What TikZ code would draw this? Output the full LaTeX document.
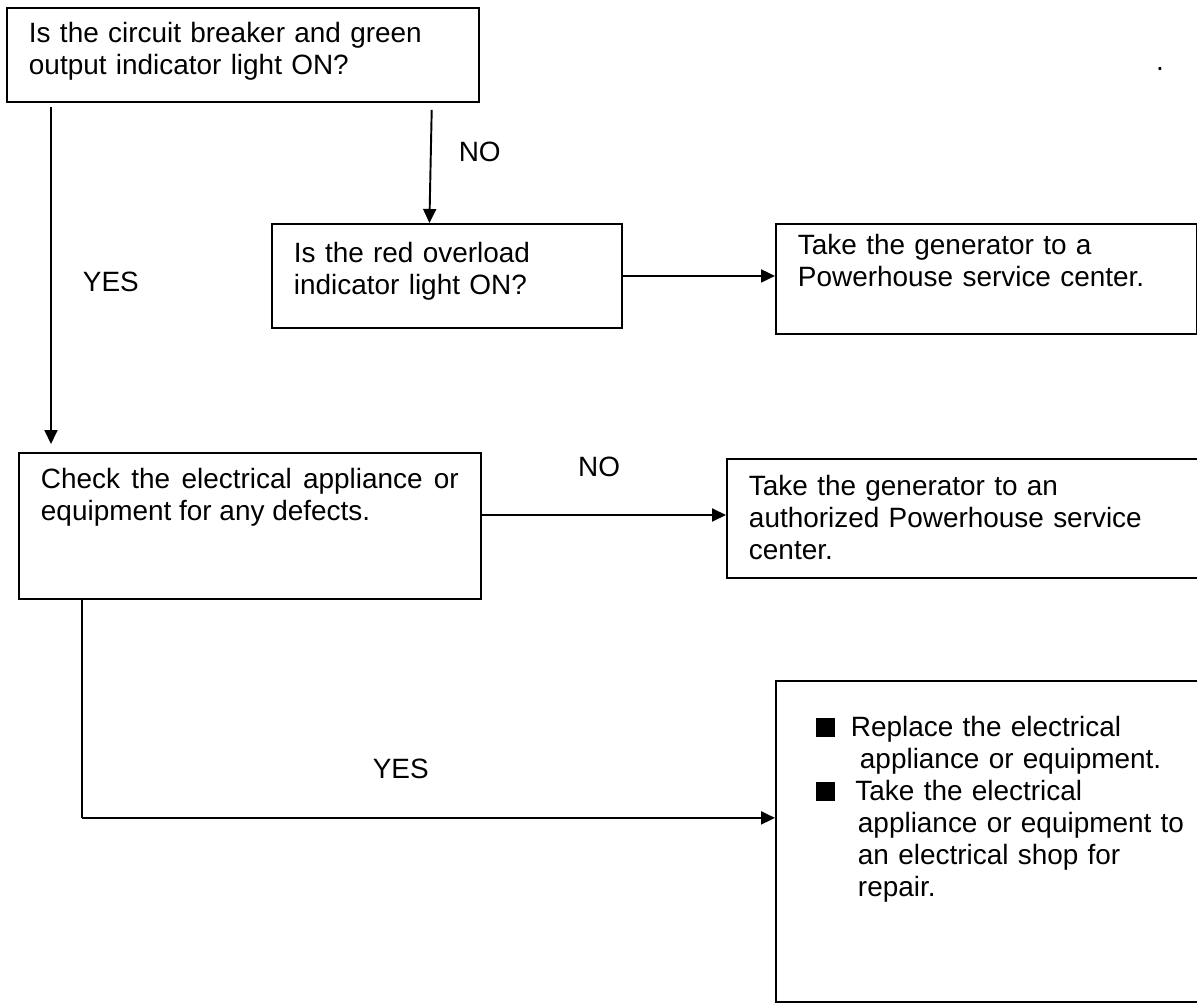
\documentclass[tikz,border=0pt]{standalone}
\usepackage{fontspec}
\setmainfont{Liberation Sans}
\usetikzlibrary{positioning,arrows.meta,calc}
\tikzset{every node/.append style={execute at begin node={\hyphenpenalty=10000\exhyphenpenalty=10000\relax}}}
\newcommand{\sqbul}{\rule{0.38cm}{0.38cm}}

\begin{document}
\begin{tikzpicture}[
  x=0.02cm, y=-0.02cm,
  box/.style={draw, line width=1.1pt, rectangle, anchor=north west, align=left,
              inner xsep=0.44cm, inner ysep=0pt, font=\fontsize{15.9}{18.2}\selectfont},
  ar/.style={-{Triangle[length=2.8mm, width=2.6mm]}, line width=1.1pt},
  lab/.style={font=\fontsize{15.9}{18.2}\selectfont, inner sep=2pt},
]
\useasboundingbox (0,0) rectangle (1197,1003);
\clip (0,0) rectangle (1197,1003);
\node[box, text width=8.56cm, text height=7mm, text depth=11.8mm] (q1) at (6,7)
  {Is the circuit breaker and green\\output indicator light ON?};
\node[box, text width=6.12cm, text height=7.8mm, text depth=13mm] (q2) at (271,223)
  {Is the red overload\\indicator light ON?};
\node[box, text width=7.54cm, text height=6.2mm, text depth=15.8mm] (a1) at (775,223)
  {Take the generator to a\\Powerhouse service center.};
\node[box, align=justify, text width=8.36cm, text height=7.2mm, text depth=22mm] (chk) at (18,452)
  {Check the electrical appliance or equipment for any defects.};
\node[box, text width=9.6cm, text height=7.4mm, text depth=16.4mm] (a2) at (726,458)
  {Take the generator to an\\authorized Powerhouse service\\center.};
\node[box, inner xsep=0.8cm, text width=7.9cm, text height=11.2mm, text depth=53mm] (fix) at (775,680)
  {\sqbul\hspace{0.32cm}Replace the electrical\\
   \hspace*{0.88cm}appliance or equipment.\\
   \sqbul\hspace{0.41cm}Take the electrical\\
   \hspace*{0.84cm}appliance or equipment to\\
   \hspace*{0.84cm}an electrical shop for\\
   \hspace*{0.84cm}repair.};
\node[lab, anchor=base] (dot) at (1160,71) {.};
\draw[ar] ($(q1.south west)+(45,4)$) -- node[lab, right=0.55cm, pos=0.52] (yes1) {YES}
  ($(chk.north west)+(33,-8)$);
\draw[ar] ($(q1.south west)+(425.7,7)$) -- node[lab, right=0.47cm, pos=0.37] (no1) {NO}
  ($(q2.north west)+(158.4,0)$);
\draw[ar] (q2.east) -- (q2.east -| a1.west);
\draw[ar] ($(chk.north east)+(0,63)$) -- node[lab, above=0.67cm, pos=0.48] (no2) {NO}
  ($(a2.north west)+(0,57)$);
\coordinate (bend) at ($(chk.south west)+(64,218)$);
\draw[line width=0.6pt] ($(chk.south west)+(64,0)$) -- (bend);
\draw[ar] (bend) -- node[lab, above=0.69cm, pos=0.46] (yes2) {YES} (bend -| fix.west);
\end{tikzpicture}
\end{document}
